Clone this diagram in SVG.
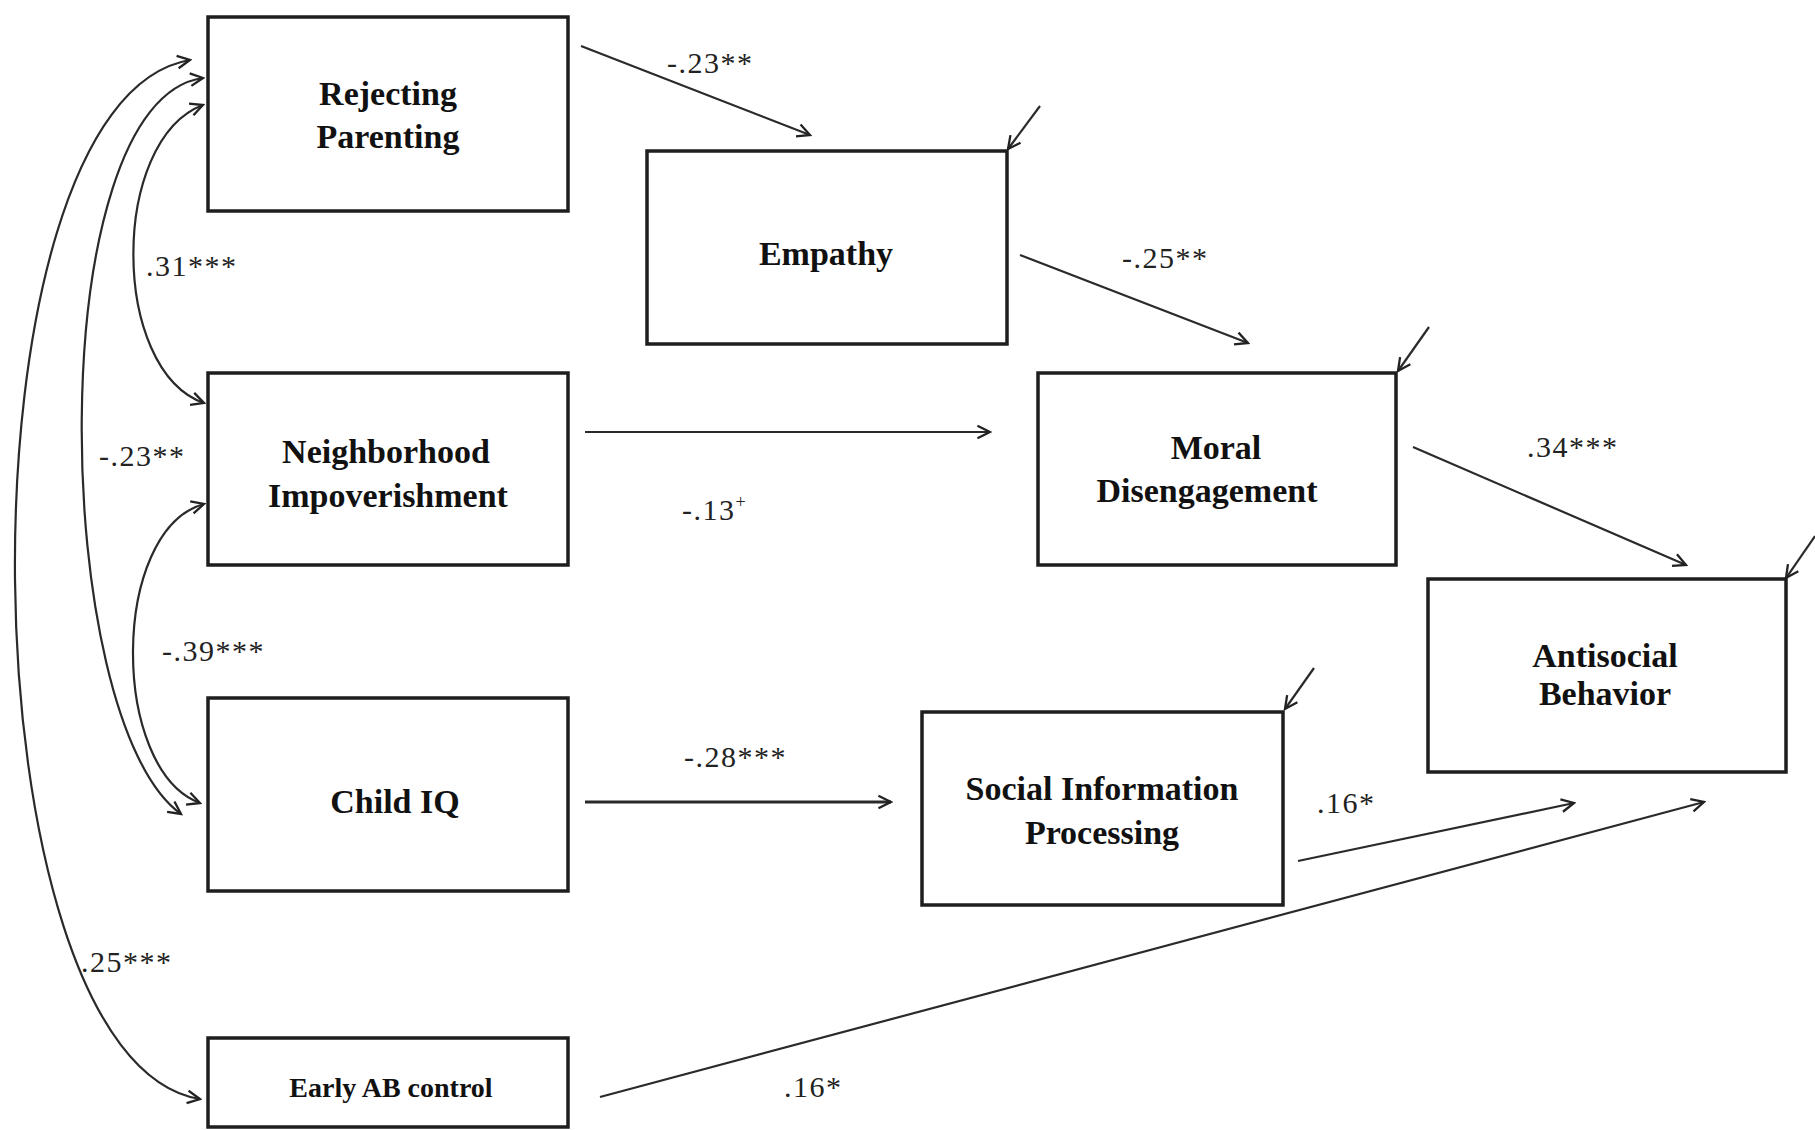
<svg xmlns="http://www.w3.org/2000/svg" width="1815" height="1130" viewBox="0 0 1815 1130">
<defs>
<marker id="arr" markerUnits="userSpaceOnUse" markerWidth="16" markerHeight="16" viewBox="-12 -7 14 14" refX="0" refY="0" orient="auto-start-reverse">
<path d="M-11,-5.5 L0,0 L-11,5.5" fill="none" stroke="#222" stroke-width="2"/>
</marker>
</defs>
<style>
.box{fill:#fff;stroke:#1e1e1e;stroke-width:3.5}
.nt{font-family:"Liberation Serif","Times New Roman",serif;font-weight:bold;font-size:34px;fill:#111;text-anchor:middle}
.lb{font-family:"Liberation Serif","Times New Roman",serif;font-size:30px;fill:#222;letter-spacing:1.5px}
.c{fill:none;stroke:#2a2a2a;stroke-width:2.2}
.a{marker-end:url(#arr)}
.d{marker-start:url(#arr);marker-end:url(#arr)}
</style>
<rect width="1815" height="1130" fill="#fff"/>
<g id="connectors">
<path class="c a" d="M581,46 L810,135"/>
<path class="c a" d="M1020,255 L1248,343"/>
<path class="c a" d="M1413,447 L1686,565"/>
<path class="c a" d="M585,432 L990,432"/>
<path class="c a" d="M585,802 L891,802" style="stroke-width:3"/>
<path class="c a" d="M1298,861 L1574,803"/>
<path class="c a" d="M600,1097 L1704,802"/>
<path class="c a" d="M1040,106 L1008,149"/>
<path class="c a" d="M1429,327 L1398,371"/>
<path class="c a" d="M1815,536 L1786,578"/>
<path class="c a" d="M1314,668 L1285,709"/>
<path class="c d" d="M203,105 C110,140 110,370 204,403"/>
<path class="c d" d="M203,78 C40,100 50,720 181,814"/>
<path class="c d" d="M204,504 C110,530 110,770 200,803"/>
<path class="c d" d="M190,60 C-50,100 -40,1060 200,1099"/>
</g>
<g id="rejecting-parenting"><rect class="box" x="208" y="17" width="360" height="194"/><text class="nt" x="388" y="105">Rejecting</text><text class="nt" x="388" y="148">Parenting</text></g>
<g id="empathy"><rect class="box" x="647" y="151" width="360" height="193"/><text class="nt" x="826" y="265">Empathy</text></g>
<g id="neighborhood"><rect class="box" x="208" y="373" width="360" height="192"/><text class="nt" x="386" y="463">Neighborhood</text><text class="nt" x="388" y="507">Impoverishment</text></g>
<g id="moral-disengagement"><rect class="box" x="1038" y="373" width="358" height="192"/><text class="nt" x="1216" y="459">Moral</text><text class="nt" x="1207" y="502">Disengagement</text></g>
<g id="antisocial"><rect class="box" x="1428" y="579" width="358" height="193"/><text class="nt" x="1605" y="667">Antisocial</text><text class="nt" x="1605" y="705">Behavior</text></g>
<g id="child-iq"><rect class="box" x="208" y="698" width="360" height="193"/><text class="nt" x="395" y="813">Child IQ</text></g>
<g id="social-info"><rect class="box" x="922" y="712" width="361" height="193"/><text class="nt" x="1102" y="800">Social Information</text><text class="nt" x="1102" y="844">Processing</text></g>
<g id="early-ab"><rect class="box" x="208" y="1038" width="360" height="89"/><text class="nt" x="391" y="1097" style="font-size:28px">Early AB control</text></g>
<g id="labels">
<text class="lb" x="667" y="73">-.23**</text>
<text class="lb" x="1122" y="268">-.25**</text>
<text class="lb" x="146" y="276">.31***</text>
<text class="lb" x="99" y="466">-.23**</text>
<text class="lb" x="682" y="520">-.13<tspan font-size="18" dy="-12">+</tspan></text>
<text class="lb" x="1527" y="457">.34***</text>
<text class="lb" x="162" y="661">-.39***</text>
<text class="lb" x="684" y="767">-.28***</text>
<text class="lb" x="1317" y="813">.16*</text>
<text class="lb" x="81" y="972">.25***</text>
<text class="lb" x="784" y="1097">.16*</text>
</g>
</svg>
